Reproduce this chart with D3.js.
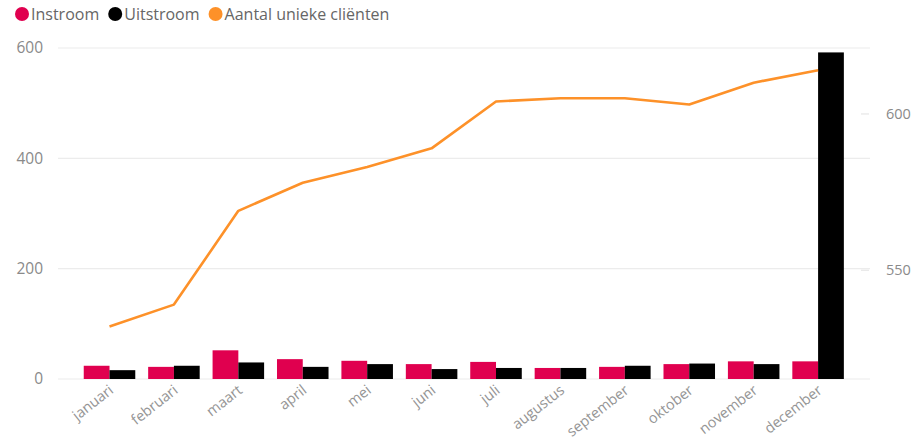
<!DOCTYPE html>
<html><head><meta charset="utf-8">
<script src="https://cdn.jsdelivr.net/npm/d3@7"></script>
<style>
body{margin:0;background:#fff;}
svg{display:block;font-family:"Open Sans","Noto Sans",sans-serif;}
</style></head><body>
<svg id="c" width="914" height="442"></svg>
<script>
const months = ["januari","februari","maart","april","mei","juni","juli","augustus","september","oktober","november","december"];
const instroom = [24,22,52,36,33,27,31,20,22,27,32,32];
const uitstroom = [16,24,30,22,27,18,20,20,24,28,27,592];
const clienten = [532,539,569,578,583,589,604,605,605,603,610,614];
const leftTicks = [0,200,400,600];
const rightTicks = [550,600];
const seriesNames = ["Instroom","Uitstroom","Aantal unieke cliënten"];
const colors = ["#E0004F","#000000","#FD9129"];

const svg = d3.select("#c");
const x = d3.scaleBand().domain(months).range([77.3,850.3]).paddingInner(0.2).paddingOuter(0.1);
const xs = d3.scaleBand().domain([0,1]).range([0,x.bandwidth()]);
const yL = d3.scaleLinear().domain([0,600]).range([379,48]);
const yR = d3.scaleLinear().domain([515.2,621.1]).range([379,48]);

// gridlines
svg.append("g").selectAll("line").data(leftTicks).join("line")
  .attr("x1",58).attr("x2",870).attr("y1",d=>yL(d)).attr("y2",d=>yL(d))
  .attr("stroke","#ececec").attr("stroke-width",1.2);
svg.append("g").selectAll("line").data(rightTicks).join("line")
  .attr("x1",861).attr("x2",869).attr("y1",d=>yR(d)).attr("y2",d=>yR(d))
  .attr("stroke","#e6e6e6").attr("stroke-width",1.2);

// axis labels
svg.append("g").selectAll("text").data(leftTicks).join("text")
  .attr("x",43).attr("y",d=>yL(d)).attr("dy","0.35em").attr("text-anchor","end")
  .attr("fill","#8a8a8a").attr("font-size",15.5).text(d=>d);
svg.append("g").selectAll("text").data(rightTicks).join("text")
  .attr("x",886).attr("y",d=>yR(d)).attr("dy","0.35em").attr("text-anchor","start")
  .attr("fill","#8a8a8a").attr("font-size",14.5).text(d=>d);

// bars
const g = svg.append("g");
months.forEach((m,i)=>{
  [instroom[i],uitstroom[i]].forEach((v,j)=>{
    g.append("rect").attr("x",x(m)+xs(j)).attr("width",xs.bandwidth())
     .attr("y",yL(v)).attr("height",yL(0)-yL(v)).attr("fill",colors[j]);
  });
});

// line
const line = d3.line().x((d,i)=>x(months[i])+x.bandwidth()/2).y(d=>yR(d));
svg.append("path").datum(clienten).attr("d",line).attr("fill","none")
  .attr("stroke",colors[2]).attr("stroke-width",2.6).attr("stroke-linejoin","round");

// x labels
svg.append("g").selectAll("text").data(months).join("text")
  .attr("transform",d=>`translate(${x(d)+x.bandwidth()/2+5},${392}) rotate(-38)`)
  .attr("text-anchor","end").attr("fill","#959595").attr("font-size",14.5).text(d=>d);

// legend
const leg = svg.append("g");
let lx = 22;
seriesNames.forEach((s,i)=>{
  leg.append("circle").attr("cx",lx).attr("cy",14).attr("r",7).attr("fill",colors[i]);
  const t = leg.append("text").attr("x",lx+9).attr("y",14).attr("dy","0.35em")
    .attr("fill","#666").attr("font-size",16).text(s);
  lx += 9 + t.node().getComputedTextLength() + 16;
});
</script></body></html>
